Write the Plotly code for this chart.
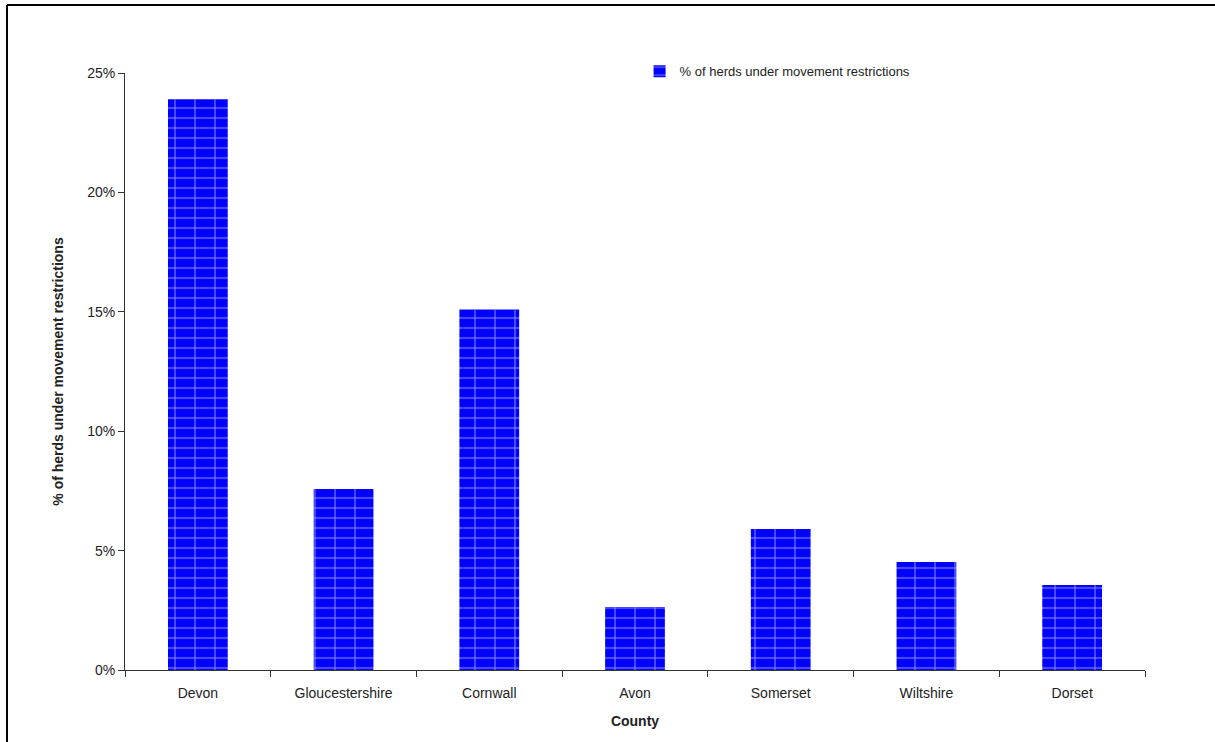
import plotly.graph_objects as go

counties = ["Devon", "Gloucestershire", "Cornwall", "Avon", "Somerset", "Wiltshire", "Dorset"]
pct_restricted = [0.239, 0.0758, 0.151, 0.0264, 0.059, 0.0452, 0.0356]
series_name = "% of herds under movement restrictions"

FONT = "Liberation Sans, Arial, sans-serif"

fig = go.Figure()
# base bar with horizontal mortar lines
fig.add_trace(go.Bar(
    x=counties, y=pct_restricted, name=series_name,
    marker=dict(
        color="#0000ff",
        line=dict(width=0),
        pattern=dict(shape="-", fgcolor="#8c8cff", bgcolor="#0000ff",
                     size=10, solidity=0.22, fillmode="overlay"),
    ),
    showlegend=True,
))
# vertical brick joints overlay
fig.add_trace(go.Bar(
    x=counties, y=pct_restricted, name=series_name,
    marker=dict(
        color="rgba(0,0,0,0)",
        line=dict(width=0),
        pattern=dict(shape="|", fgcolor="#8c8cff", bgcolor="rgba(0,0,0,0)",
                     size=20, solidity=0.1, fillmode="overlay"),
    ),
    showlegend=False, hoverinfo="skip",
))

fig.update_layout(
    width=1215, height=742,
    margin=dict(l=125, r=70, t=73, b=72),
    paper_bgcolor="white", plot_bgcolor="white",
    font=dict(family=FONT, size=14, color="#222222"),
    barmode="overlay",
    bargap=0.59,
    showlegend=True,
    legend=dict(x=0.5045, y=1.003, xanchor="left", yanchor="middle",
                bgcolor="rgba(0,0,0,0)", font=dict(size=13, color="#222222"),
                itemwidth=30),
    xaxis=dict(
        title=dict(text="<b>County</b>", font=dict(size=14, color="#222222"), standoff=16),
        showline=True, linecolor="#333333", linewidth=1,
        ticks="outside", ticklen=6, tickcolor="#333333",
        tickson="boundaries", showgrid=False, zeroline=False,
        tickfont=dict(size=14), ticklabelstandoff=10,
    ),
    yaxis=dict(
        title=dict(text="<b>" + series_name + "</b>", font=dict(size=14, color="#222222"), standoff=20),
        range=[0, 0.25], dtick=0.05, tickformat=".0%",
        showline=True, linecolor="#333333", linewidth=1,
        ticks="outside", ticklen=6, tickcolor="#333333",
        showgrid=False, zeroline=False, tickfont=dict(size=14),
    ),
    shapes=[
        dict(type="line", xref="paper", yref="paper", x0=-0.1157, x1=1.2, y0=1.1139, y1=1.1139,
             line=dict(color="black", width=2)),
        dict(type="line", xref="paper", yref="paper", x0=-0.1157, x1=-0.1157, y0=-0.2, y1=1.1139,
             line=dict(color="black", width=2)),
    ],
)

fig.write_html("out.html")
